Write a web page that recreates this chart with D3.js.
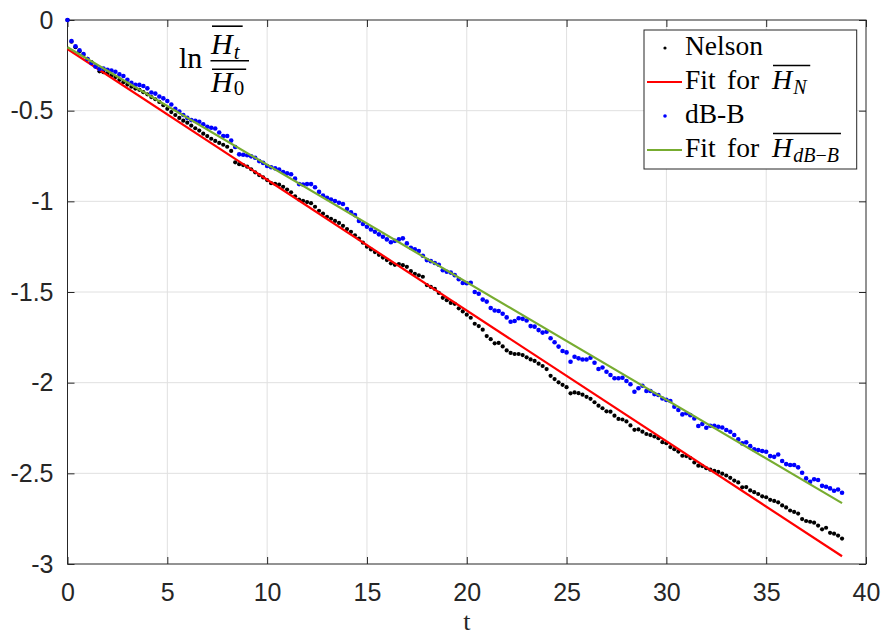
<!DOCTYPE html>
<html>
<head>
<meta charset="utf-8">
<script src="https://cdn.jsdelivr.net/npm/d3@7"></script>
<style>
  html, body { margin: 0; padding: 0; background: #fff; }
  svg { display: block; }
</style>
</head>
<body>
<svg id="chart" width="883" height="635"></svg>
<script>
// Sampling of the time axis
const tStart = 0;
const tStep = 0.2;

// ln(H_t / H_0) for the Nelson estimate, one value per time step
const nelson = [
  0, -0.120, -0.150, -0.172, -0.192, -0.214, -0.232, -0.255, -0.283, -0.288,
  -0.295, -0.305, -0.315, -0.330, -0.343, -0.356, -0.368, -0.378, -0.385, -0.398,
  -0.410, -0.425, -0.437, -0.452, -0.470, -0.490, -0.508, -0.524, -0.540, -0.555,
  -0.566, -0.582, -0.597, -0.610, -0.627, -0.640, -0.655, -0.667, -0.678, -0.688,
  -0.699, -0.722, -0.785, -0.795, -0.800, -0.809, -0.823, -0.840, -0.855, -0.868,
  -0.883, -0.900, -0.903, -0.908, -0.920, -0.935, -0.950, -0.972, -0.990, -0.998,
  -1.004, -1.010, -1.030, -1.052, -1.068, -1.085, -1.096, -1.108, -1.119, -1.135,
  -1.153, -1.168, -1.187, -1.205, -1.228, -1.250, -1.265, -1.280, -1.295, -1.310,
  -1.324, -1.342, -1.350, -1.346, -1.352, -1.361, -1.385, -1.400, -1.408, -1.416,
  -1.462, -1.472, -1.483, -1.505, -1.532, -1.545, -1.560, -1.565, -1.590, -1.607,
  -1.625, -1.642, -1.675, -1.688, -1.708, -1.743, -1.760, -1.783, -1.781, -1.800,
  -1.822, -1.836, -1.842, -1.842, -1.848, -1.860, -1.872, -1.880, -1.895, -1.908,
  -1.925, -1.962, -1.980, -1.998, -2.012, -2.025, -2.059, -2.054, -2.058, -2.066,
  -2.078, -2.089, -2.108, -2.127, -2.141, -2.158, -2.160, -2.182, -2.200, -2.203,
  -2.214, -2.236, -2.260, -2.258, -2.270, -2.283, -2.289, -2.297, -2.306, -2.328,
  -2.334, -2.355, -2.367, -2.380, -2.403, -2.405, -2.416, -2.440, -2.458, -2.460,
  -2.472, -2.480, -2.486, -2.492, -2.502, -2.512, -2.525, -2.540, -2.550, -2.577,
  -2.576, -2.594, -2.604, -2.614, -2.627, -2.632, -2.646, -2.652, -2.660, -2.677,
  -2.688, -2.705, -2.713, -2.722, -2.752, -2.763, -2.767, -2.772, -2.788, -2.809,
  -2.800, -2.828, -2.833, -2.843, -2.860
];

// ln(H_t / H_0) for the dB-B estimate, same time steps
const dbb = [
  0, -0.116, -0.145, -0.167, -0.188, -0.215, -0.237, -0.257, -0.270, -0.268,
  -0.275, -0.279, -0.285, -0.300, -0.309, -0.330, -0.347, -0.357, -0.358, -0.364,
  -0.377, -0.400, -0.406, -0.422, -0.432, -0.447, -0.466, -0.490, -0.505, -0.524,
  -0.540, -0.552, -0.556, -0.561, -0.575, -0.589, -0.594, -0.598, -0.620, -0.640,
  -0.640, -0.665, -0.700, -0.741, -0.743, -0.746, -0.752, -0.760, -0.778, -0.788,
  -0.805, -0.812, -0.818, -0.825, -0.838, -0.846, -0.851, -0.875, -0.905, -0.907,
  -0.905, -0.905, -0.922, -0.948, -0.968, -0.980, -0.990, -0.998, -1.008, -1.015,
  -1.042, -1.060, -1.076, -1.108, -1.125, -1.140, -1.155, -1.168, -1.182, -1.195,
  -1.210, -1.226, -1.218, -1.210, -1.204, -1.232, -1.256, -1.265, -1.274, -1.300,
  -1.324, -1.330, -1.340, -1.350, -1.380, -1.388, -1.393, -1.407, -1.430, -1.450,
  -1.452, -1.449, -1.500, -1.510, -1.542, -1.553, -1.588, -1.602, -1.605, -1.620,
  -1.640, -1.664, -1.660, -1.645, -1.648, -1.657, -1.688, -1.691, -1.710, -1.724,
  -1.719, -1.755, -1.777, -1.801, -1.825, -1.833, -1.885, -1.857, -1.866, -1.872,
  -1.872, -1.863, -1.890, -1.925, -1.916, -1.940, -1.958, -1.976, -1.976, -1.973,
  -1.991, -2.009, -2.050, -2.031, -2.017, -2.046, -2.046, -2.063, -2.068, -2.087,
  -2.095, -2.101, -2.133, -2.151, -2.175, -2.169, -2.179, -2.197, -2.239, -2.228,
  -2.249, -2.238, -2.238, -2.243, -2.247, -2.261, -2.271, -2.289, -2.313, -2.335,
  -2.329, -2.350, -2.368, -2.372, -2.377, -2.381, -2.405, -2.409, -2.396, -2.432,
  -2.449, -2.454, -2.454, -2.467, -2.497, -2.528, -2.547, -2.533, -2.537, -2.569,
  -2.574, -2.583, -2.596, -2.589, -2.607
];

// Linear fits: [intercept, slope], drawn over the fitted time range
const fitNelson = [-0.16, -0.0721];
const fitDbb = [-0.15, -0.0648];
const fitRange = [0, 38.8];

// Axis ticks
const xTicks = [0, 5, 10, 15, 20, 25, 30, 35, 40];
const yTicks = [0, -0.5, -1, -1.5, -2, -2.5, -3];
const yTickLabels = ["0", "-0.5", "-1", "-1.5", "-2", "-2.5", "-3"];

// ---------------------------------------------------------------
const svg = d3.select("#chart");
const W = 883, H = 635;
const plot = { left: 67.5, right: 866, top: 20, bottom: 564 };

const x = d3.scaleLinear().domain([0, 40]).range([plot.left, plot.right]);
const y = d3.scaleLinear().domain([-3, 0]).range([plot.bottom, plot.top]);

const axisColor = "#262626";
const gridColor = "#e0e0e0";
const tickFont = "'Liberation Sans', Arial, Helvetica, sans-serif";
const serif = "'Liberation Serif', 'Times New Roman', serif";

svg.append("rect").attr("width", W).attr("height", H).attr("fill", "#fff");

// Grid
const grid = svg.append("g");
grid.selectAll(".gx").data(xTicks.slice(1, -1)).join("line")
  .attr("x1", d => x(d)).attr("x2", d => x(d))
  .attr("y1", plot.top).attr("y2", plot.bottom)
  .attr("stroke", gridColor).attr("stroke-width", 1);
grid.selectAll(".gy").data(yTicks.slice(1, -1)).join("line")
  .attr("x1", plot.left).attr("x2", plot.right)
  .attr("y1", d => y(d)).attr("y2", d => y(d))
  .attr("stroke", gridColor).attr("stroke-width", 1);

// Axes with inward ticks on all four sides
function styleAxis(g) {
  g.select(".domain").remove();
  g.selectAll(".tick line").attr("stroke", axisColor).attr("stroke-width", 1);
  g.selectAll(".tick text").attr("fill", axisColor)
    .attr("font-family", tickFont).attr("font-size", 25);
}
svg.append("g").attr("transform", `translate(0,${plot.bottom})`)
  .call(d3.axisBottom(x).tickValues(xTicks).tickSizeInner(-7).tickSizeOuter(0).tickPadding(19))
  .call(styleAxis);
svg.append("g").attr("transform", `translate(0,${plot.top})`)
  .call(d3.axisTop(x).tickValues(xTicks).tickSizeInner(-7).tickSizeOuter(0).tickFormat(""))
  .call(styleAxis);
svg.append("g").attr("transform", `translate(${plot.left},0)`)
  .call(d3.axisLeft(y).tickValues(yTicks).tickSizeInner(-7).tickSizeOuter(0).tickPadding(14)
    .tickFormat((d, i) => yTickLabels[i]))
  .call(styleAxis);
svg.append("g").attr("transform", `translate(${plot.right},0)`)
  .call(d3.axisRight(y).tickValues(yTicks).tickSizeInner(-7).tickSizeOuter(0).tickFormat(""))
  .call(styleAxis);

svg.append("rect")
  .attr("x", plot.left).attr("y", plot.top)
  .attr("width", plot.right - plot.left).attr("height", plot.bottom - plot.top)
  .attr("fill", "none").attr("stroke", axisColor).attr("stroke-width", 1);

// x-axis label
svg.append("text")
  .attr("x", (plot.left + plot.right) / 2).attr("y", 630)
  .attr("text-anchor", "middle")
  .attr("font-family", serif).attr("font-size", 26).attr("fill", axisColor)
  .text("t");

// Series
const pts = arr => arr.map((v, i) => ({ t: tStart + i * tStep, v }));
const fitPts = f => fitRange.map(t => ({ t, v: f[0] + f[1] * t }));
const line = d3.line().x(d => x(d.t)).y(d => y(d.v));

svg.append("g").selectAll("circle").data(pts(nelson)).join("circle")
  .attr("cx", d => x(d.t)).attr("cy", d => y(d.v)).attr("r", 2.1).attr("fill", "#000");
svg.append("path").datum(fitPts(fitNelson)).attr("d", line)
  .attr("fill", "none").attr("stroke", "#ff0000").attr("stroke-width", 2.2);
svg.append("g").selectAll("circle").data(pts(dbb)).join("circle")
  .attr("cx", d => x(d.t)).attr("cy", d => y(d.v)).attr("r", 2.3).attr("fill", "#0000ff");
svg.append("path").datum(fitPts(fitDbb)).attr("d", line)
  .attr("fill", "none").attr("stroke", "#77ac30").attr("stroke-width", 2.2);

// Helper: italic symbol with subscript and an overline spanning both
function barredSymbol(g, xPos, baseline, size, sym, sub, subSize, subDrop, barGap) {
  const t = g.append("text")
    .attr("x", xPos).attr("y", baseline)
    .attr("font-family", serif).attr("font-size", size).attr("fill", "#000");
  t.append("tspan").attr("font-style", "italic").text(sym);
  const s = t.append("tspan").attr("font-size", subSize).attr("dy", subDrop).attr("dx", 1);
  sub.forEach(part => {
    s.append("tspan").attr("font-style", part.italic ? "italic" : "normal").text(part.text);
  });
  const bb = t.node().getBBox();
  const capTop = baseline - size * 0.66;
  g.append("line")
    .attr("x1", xPos + 1).attr("x2", bb.x + bb.width + 2)
    .attr("y1", capTop - barGap).attr("y2", capTop - barGap)
    .attr("stroke", "#000").attr("stroke-width", 1.6);
  return t;
}

// Formula annotation: ln( H_t / H_0 )
const ann = svg.append("g");
ann.append("text").attr("x", 179).attr("y", 68)
  .attr("font-family", serif).attr("font-size", 30).attr("fill", "#000").text("ln");
barredSymbol(ann, 211, 54, 30, "H", [{ text: "t", italic: true }], 21, 5, 8);
ann.append("line").attr("x1", 210.5).attr("x2", 249).attr("y1", 60.7).attr("y2", 60.7)
  .attr("stroke", "#000").attr("stroke-width", 1.5);
barredSymbol(ann, 211, 92, 30, "H", [{ text: "0", italic: false }], 21, 3, 3);

// Legend
const lg = svg.append("g");
lg.append("rect").attr("x", 644).attr("y", 30).attr("width", 212.7).attr("height", 139)
  .attr("fill", "#fff").attr("stroke", axisColor).attr("stroke-width", 1);

const rowY = [47, 82, 116, 150];
const textX = 685;
lg.append("circle").attr("cx", 665).attr("cy", rowY[0] + 1).attr("r", 1.6).attr("fill", "#000");
lg.append("line").attr("x1", 647).attr("x2", 682).attr("y1", rowY[1]).attr("y2", rowY[1])
  .attr("stroke", "#ff0000").attr("stroke-width", 2.2);
lg.append("circle").attr("cx", 665).attr("cy", rowY[2]).attr("r", 1.8).attr("fill", "#0000ff");
lg.append("line").attr("x1", 647).attr("x2", 682).attr("y1", rowY[3]).attr("y2", rowY[3])
  .attr("stroke", "#77ac30").attr("stroke-width", 2.2);

const lgText = (xPos, yPos, s) => lg.append("text").attr("x", xPos).attr("y", yPos)
  .attr("font-family", serif).attr("font-size", 27.5).attr("fill", "#000").text(s);

lgText(textX, 54.5, "Nelson");
lgText(textX, 89, "Fit");
lgText(727, 89, "for");
barredSymbol(lg, 772, 89, 28, "H", [{ text: "N", italic: true }], 20, 5, 5);
lgText(textX, 123, "dB-B");
lgText(textX, 157, "Fit");
lgText(727, 157, "for");
barredSymbol(lg, 772, 157, 28, "H",
  [{ text: "dB", italic: true }, { text: "\u2212", italic: false }, { text: "B", italic: true }],
  20, 5, 5);
</script>
</body>
</html>
